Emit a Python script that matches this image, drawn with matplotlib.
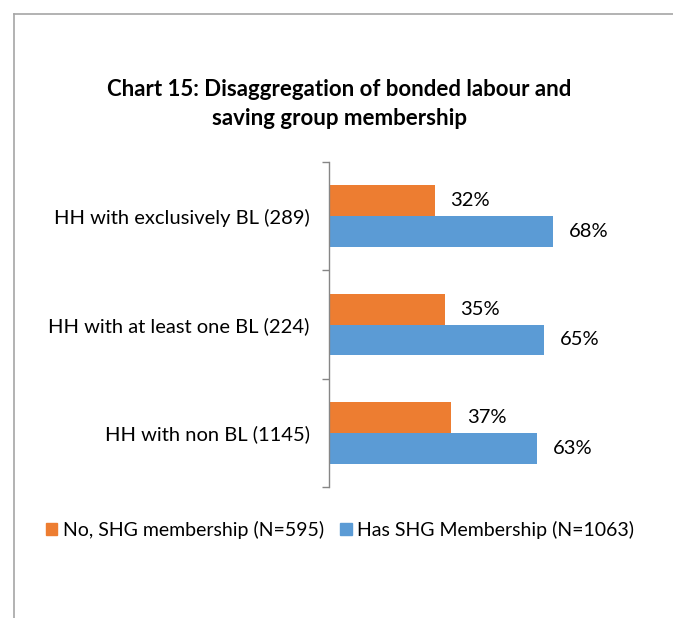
import matplotlib.pyplot as plt
from matplotlib.patches import Patch
from matplotlib.lines import Line2D
import numpy as np

plt.rcParams['font.family'] = ['Lato', 'DejaVu Sans']

categories = ['HH with exclusively BL (289)', 'HH with at least one BL (224)', 'HH with non BL (1145)']
no_shg = [32, 35, 37]
has_shg = [68, 65, 63]
series_names = ['No, SHG membership (N=595)', 'Has SHG Membership (N=1063)']
title = 'Chart 15: Disaggregation of bonded labour and\nsaving group membership'

orange = '#ED7D31'
blue = '#5B9BD5'
W, H = 673, 618

fig = plt.figure(figsize=(W / 100, H / 100), dpi=100)
ax = fig.add_axes([329 / W, (H - 487) / H, 264 / W, 325 / H])

y = np.arange(len(categories))[::-1]
h = 0.286
b1 = ax.barh(y + h / 2, no_shg, height=h, color=orange, label=series_names[0])
b2 = ax.barh(y - h / 2, has_shg, height=h, color=blue, label=series_names[1])

for bars, vals in ((b1, no_shg), (b2, has_shg)):
    for bar, v in zip(bars, vals):
        ax.annotate(f'{v}%', (v, bar.get_y() + bar.get_height() / 2),
                    xytext=(11.5, 0), textcoords='offset points',
                    ha='left', va='center', fontsize=14.5, color='#000000')

ax.set_xlim(0, 80)
ax.set_ylim(-0.5, 2.5)
ax.set_yticks(y)
ax.set_yticklabels(categories, fontsize=14.5)
ax.set_yticks([-0.5, 0.5, 1.5, 2.5], minor=True)
ax.tick_params(axis='y', which='major', length=0, pad=14)
ax.tick_params(axis='y', which='minor', length=5, width=1, color='#868686')
ax.set_xticks([])
for s in ('top', 'right', 'bottom'):
    ax.spines[s].set_visible(False)
ax.spines['left'].set_color('#868686')
ax.spines['left'].set_linewidth(1)

fig.text(339 / W, 1 - 104 / H, title, ha='center', va='center',
         fontsize=16, fontweight='bold', linespacing=1.45)

fig.legend(handles=[Patch(color=orange), Patch(color=blue)], labels=series_names,
           loc='center', bbox_to_anchor=(340 / W, 1 - 530 / H), ncol=2,
           frameon=False, fontsize=14, handlelength=0.6, handleheight=0.6,
           handletextpad=0.3, columnspacing=0.8)

# frame edges on the left and top
fig.add_artist(Line2D([13.5 / W, 13.5 / W], [0, 1 - 14 / H], color='#A6A6A6', lw=1.2))
fig.add_artist(Line2D([13.5 / W, 1], [1 - 14 / H, 1 - 14 / H], color='#A6A6A6', lw=1.2))

fig.savefig('out.png', dpi=100)
